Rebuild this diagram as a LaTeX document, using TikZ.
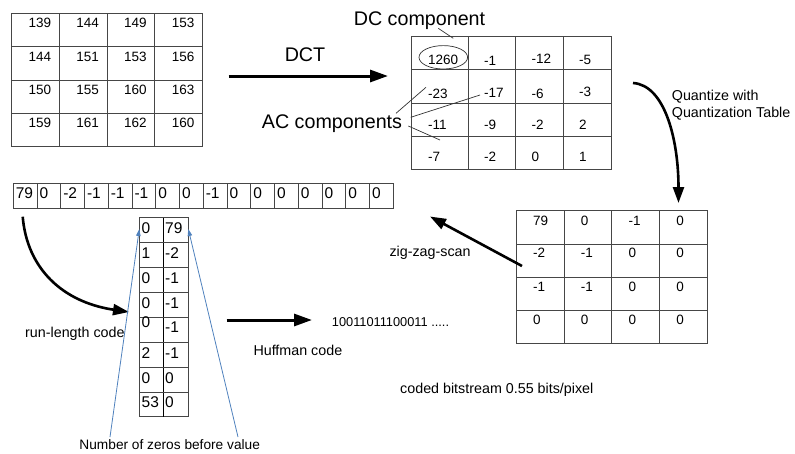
\documentclass[tikz,border=0pt]{standalone}
\usepackage{fontspec}
\setmainfont{Liberation Sans}
\usetikzlibrary{arrows.meta}
\definecolor{tablegray}{RGB}{70,70,70}
\definecolor{arrowblue}{RGB}{79,129,189}
\tikzset{
  gridline/.style={draw=tablegray, line width=0.9pt},
  num/.style={font=\fontsize{13.5}{16}\selectfont, inner sep=0pt, anchor=west},
  vnum/.style={font=\fontsize{15.5}{18}\selectfont, inner sep=0pt, anchor=west},
  biglbl/.style={font=\fontsize{19.7}{23}\selectfont, inner sep=0pt, anchor=base},
  lbl/.style={font=\fontsize{14.3}{17}\selectfont, inner sep=0pt, anchor=base west},
  fatarrow/.style={line width=3pt, -{Triangle[length=18pt,width=12pt]}},
  curvearrow/.style={line width=2.6pt, -{Triangle[length=16pt,width=11pt]}},
  bluearrow/.style={draw=arrowblue, line width=0.8pt, -{Triangle[length=7pt,width=4.5pt]}, shorten >=0pt},
  thinline/.style={draw=black!80, line width=0.7pt},
}
\begin{document}
\begin{tikzpicture}[x=1pt,y=-1pt]
\useasboundingbox (0,0) rectangle (795,453);

% ---------- Matrix 1 (pixels) ----------
\draw[gridline] (11,13) rectangle (202,146);
\foreach \xx in {59,107,154} \draw[gridline] (\xx,13) -- (\xx,146);
\foreach \yy in {46,80,113} \draw[gridline] (11,\yy) -- (202,\yy);
\foreach \row/\yy/\vals in {1/23.3/{139,144,149,153},2/56.7/{144,151,153,156},3/89.5/{150,155,160,163},4/122.7/{159,161,162,160}}{
  \foreach \v [count=\c] in \vals {
    \pgfmathsetmacro{\xx}{11+17.5+47.75*(\c-1)}
    \node[num] (ma-\row-\c) at (\xx,\yy) {\v};
  }
}

% ---------- Matrix 2 (DCT coefficients) ----------
\draw[gridline] (411.7,36.7) rectangle (611,169.3);
\foreach \xx in {468.3,515.7,563.3} \draw[gridline] (\xx,36.7) -- (\xx,169.3);
\foreach \yy in {69.3,103.3,136.7} \draw[gridline] (411.7,\yy) -- (611,\yy);
\node[num] (mb-1-1) at (428,60) {1260};
\node[num] (mb-1-2) at (484,61) {-1};
\node[num] (mb-1-3) at (531.5,59) {-12};
\node[num] (mb-1-4) at (579,59.5) {-5};
\node[num] (mb-2-1) at (428,94) {-23};
\node[num] (mb-2-2) at (484,93) {-17};
\node[num] (mb-2-3) at (531.5,94) {-6};
\node[num] (mb-2-4) at (579,92) {-3};
\node[num] (mb-3-1) at (428,125) {-11};
\node[num] (mb-3-2) at (484,125) {-9};
\node[num] (mb-3-3) at (531.5,125) {-2};
\node[num] (mb-3-4) at (579,125) {2};
\node[num] (mb-4-1) at (428,157) {-7};
\node[num] (mb-4-2) at (484,157) {-2};
\node[num] (mb-4-3) at (531.5,157) {0};
\node[num] (mb-4-4) at (579,157) {1};
\draw[thinline] (443.3,57.3) ellipse [x radius=24.3, y radius=11.7];

% DC / AC labels
\node[biglbl] (dc) at (419.5,25.7) {DC component};
\node[biglbl] (ac) at (332,128) {AC components};
\coordinate (dcA) at (438.3,28.3);
\coordinate (dcB) at (453.3,38.3);
\draw[thinline] (dcA) -- (dcB);
\coordinate (acA1) at (396,113.3);  \coordinate (acB1) at (426,87.3);
\coordinate (acA2) at (410.7,117.3); \coordinate (acB2) at (480,95);
\coordinate (acA3) at (408.3,126);  \coordinate (acB3) at (440,140);
\draw[thinline] (acA1) -- (acB1);
\draw[thinline] (acA2) -- (acB2);
\draw[thinline] (acA3) -- (acB3);

% DCT arrow
\node[biglbl] (dct) at (305,61) {DCT};
\coordinate (dctS) at (228.5,76);
\coordinate (dctE) at (388,76);
\draw[fatarrow] (dctS) -- (dctE);

% Quantize arrow
\coordinate (qS) at (633,83);
\coordinate (qE) at (678.5,203);
\draw[curvearrow] (qS) .. controls (665,85) and (678.5,140) .. (qE);
\node[lbl] (q1) at (671.7,100.7) {Quantize with};
\node[lbl] (q2) at (671.7,117.3) {Quantization Table};

% ---------- Matrix 3 (quantized) ----------
\draw[gridline] (516,210.7) rectangle (707,343.3);
\foreach \xx in {564,611.7,659.3} \draw[gridline] (\xx,210.7) -- (\xx,343.3);
\foreach \yy in {244,277.3,310} \draw[gridline] (516,\yy) -- (707,\yy);
\foreach \row/\yy/\vals in {1/221/{79,0,-1,0},2/253/{-2,-1,0,0},3/287/{-1,-1,0,0},4/320/{0,0,0,0}}{
  \foreach \v [count=\c] in \vals {
    \pgfmathsetmacro{\xx}{516+17+47.75*(\c-1)}
    \node[num] (mc-\row-\c) at (\xx,\yy) {\v};
  }
}

% zig-zag arrow
\coordinate (zS) at (522,266);
\coordinate (zE) at (430,216.5);
\draw[curvearrow] (zS) -- (zE);
\node[lbl] (zz) at (389.3,256) {zig-zag-scan};

% ---------- Row vector ----------
\draw[gridline] (13.3,183.3) rectangle (393.3,208.3);
\foreach \i in {1,...,15} \draw[gridline] ({13.3+23.75*\i},183.3) -- ({13.3+23.75*\i},208.3);
\foreach \v [count=\c] in {79,0,-2,-1,-1,-1,0,0,-1,0,0,0,0,0,0,0}{
  \pgfmathsetmacro{\xx}{13.3+2.3+23.75*(\c-1)}
  \node[vnum] (rv-\c) at (\xx,192.7) {\v};
}

% run-length arrow
\coordinate (rS) at (22.7,216.7);
\coordinate (rE) at (129,312);
\draw[curvearrow] (rS) .. controls (27,268) and (62,302) .. (rE);
\node[lbl] (rl) at (25,337) {run-length code};

% ---------- RLE table ----------
\draw[gridline] (139.3,217.7) rectangle (188.3,416.7);
\draw[draw=black, line width=0.9pt] (163.3,217.7) -- (163.3,416.7);
\foreach \yy in {242.7,267.7,292.7,317.7,342.3,367.3,392.3} \draw[gridline] (139.3,\yy) -- (188.3,\yy);
\foreach \a/\b/\yy/\yb [count=\r] in {0/79/228.3/228.3,1/-2/253/253,0/-1/278/278,0/-1/303/303,0/-1/322.5/327.5,2/-1/352.8/352.8,0/0/377.8/377.8,53/0/402.5/402.5}{
  \node[vnum] (rla-\r) at (141.5,\yy) {\a};
  \node[vnum] (rlb-\r) at (165,\yb) {\b};
}

% blue arrows
\coordinate (bS1) at (110,437);
\coordinate (bE1) at (139.3,229);
\coordinate (bS2) at (238,437);
\coordinate (bE2) at (188.3,229);
\draw[bluearrow] (bS1) -- (bE1);
\draw[bluearrow] (bS2) -- (bE2);
\node[font=\fontsize{13.7}{16}\selectfont, inner sep=0pt, anchor=base] (nz) at (169.7,449) {Number of zeros before value};

% Huffman
\coordinate (hS) at (226.7,320);
\coordinate (hE) at (312,320);
\draw[fatarrow] (hS) -- (hE);
\node[lbl] (hc) at (253.3,355.7) {Huffman code};
\node[font=\fontsize{12.8}{15}\selectfont, inner sep=0pt, anchor=base west] (bits) at (331.7,326.7) {10011011100011 .....};
\node[lbl] (cb) at (400,393.3) {coded bitstream 0.55 bits/pixel};
\end{tikzpicture}
\end{document}
